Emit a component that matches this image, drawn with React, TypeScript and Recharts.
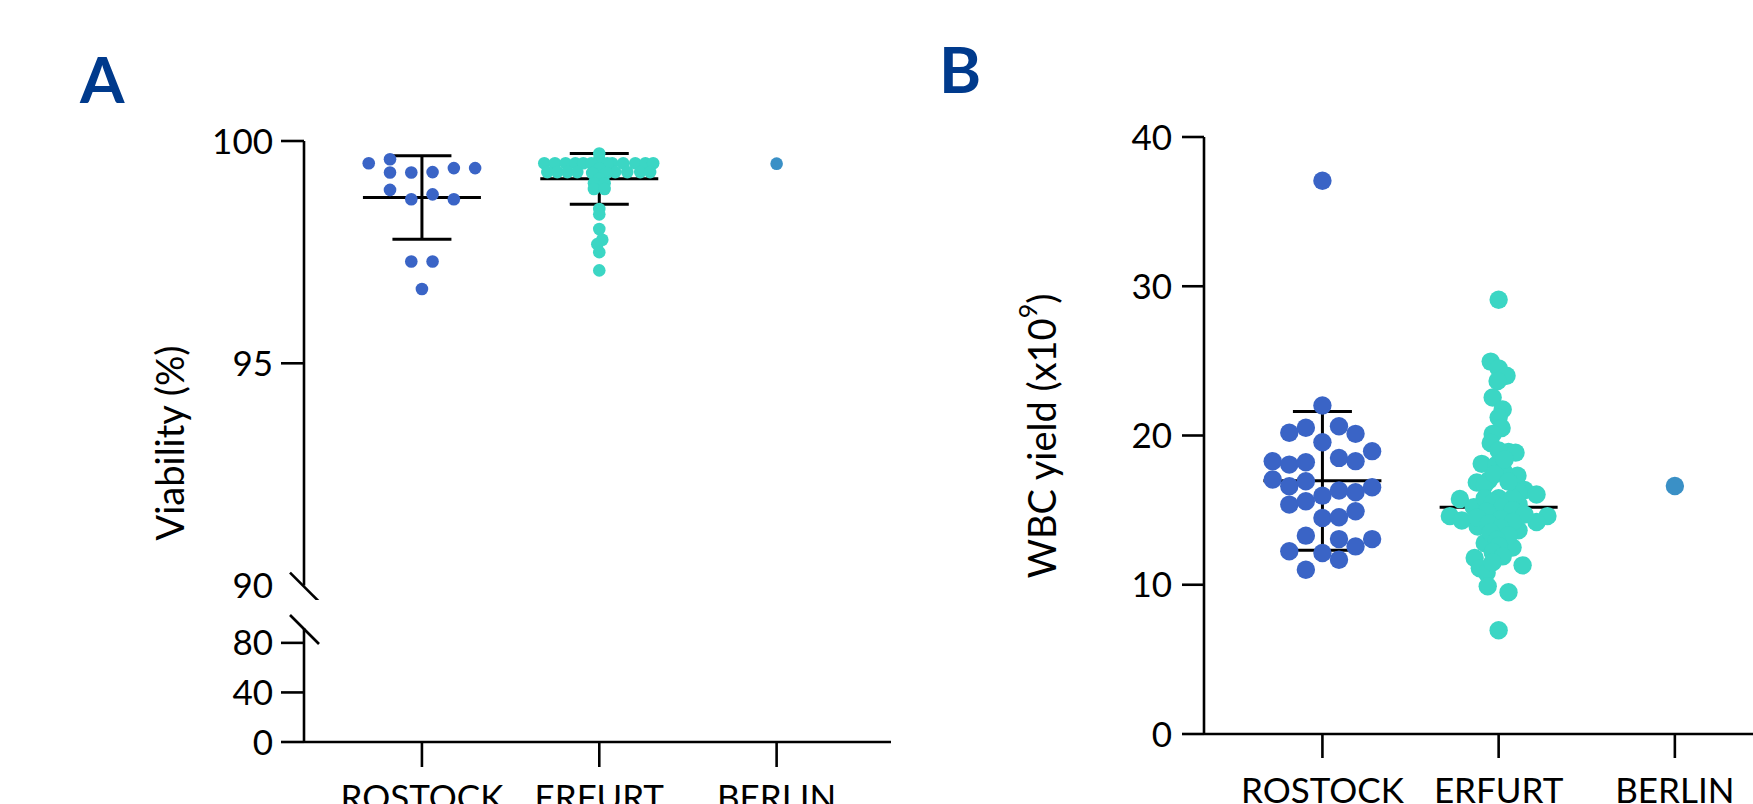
import React from 'react';
import { ScatterChart, Scatter, XAxis, YAxis, ErrorBar } from 'recharts';

const sites = ['ROSTOCK', 'ERFURT', 'BERLIN'];
const siteColors = ['#3A64C6', '#3BD6C4', '#3A90C6'];

// Viability (%) per donation; spread = sideways offset of each dot, in category widths
const rostockViability = [99.5, 99.59, 99.29, 99.29, 99.3, 99.39, 99.39, 98.9, 98.69, 98.8, 98.69, 97.29, 97.29, 96.67];
const rostockViabilitySpread = [-0.3, -0.18, -0.18, -0.06, 0.06, 0.18, 0.3, -0.18, -0.06, 0.06, 0.18, -0.06, 0.06, 0];
const erfurtViability = [
  99.5, 99.5, 99.5, 99.5, 99.5, 99.5, 99.5, 99.5, 99.5, 99.5,
  99.3, 99.3, 99.3, 99.3, 99.3, 99.3, 99.3, 99.3,
  99.72, 99.6, 99.5, 99.5, 99.38, 99.28, 99.28, 99.15, 99.05, 99.05, 98.92, 98.92,
  98.47, 98.35, 98.02, 97.78, 97.68, 97.5, 97.09,
];
const erfurtViabilitySpread = [
  -0.31, -0.25, -0.19, -0.135, -0.09, 0.073, 0.135, 0.203, 0.26, 0.304,
  -0.293, -0.237, -0.18, -0.124, 0.09, 0.158, 0.231, 0.287,
  0, 0, -0.045, 0.045, 0, -0.04, 0.04, 0, -0.03, 0.03, -0.03, 0.03,
  0, 0, 0, 0.017, -0.011, 0, 0,
];
const berlinViability = [99.49];
const viabilityMean = [98.73, 99.15];
const viabilitySd = [0.94, 0.57];

// WBC yield (x10^9)
const rostockWbc = [
  37.07, 22.01, 20.18, 20.52, 20.62, 20.11, 19.55, 18.95, 18.28, 18.05, 18.21, 18.5, 18.28,
  17.05, 16.6, 16.93, 16.53, 15.37, 15.59, 15.97, 16.31, 16.2, 14.48, 14.52, 14.92,
  13.29, 13.06, 12.57, 13.06, 12.24, 12.13, 11.68, 11.01,
];
const rostockWbcSpread = [
  0, 0, -0.188, -0.094, 0.094, 0.188, 0, 0.282, -0.282, -0.188, -0.094, 0.094, 0.188,
  -0.282, -0.188, -0.094, 0.282, -0.188, -0.094, 0, 0.094, 0.188, 0, 0.094, 0.188,
  -0.094, 0.094, 0.188, 0.282, -0.188, 0, 0.094, -0.094,
];
const erfurtWbc = [
  29.1, 24.95, 24.5, 24.0, 23.65, 22.55, 21.75, 21.2, 20.5, 20.1, 19.5, 18.9, 18.85, 18.1, 18.05,
  17.3, 17.0, 16.85, 16.7, 16.35, 16.2, 16.05, 15.75, 15.2, 15.4, 14.6, 14.6, 14.3, 14.2, 13.9,
  13.65, 12.8, 12.5, 11.8, 11.3, 11.1, 10.8, 9.9, 9.5, 6.95,
  15.8, 15.8, 15.8, 15.5, 15.2, 15.0, 14.9, 14.7, 14.5, 14.4, 14.2, 14.1, 13.8, 13.5, 13.3,
  13.0, 12.6, 12.2, 11.9, 11.5, 17.6, 17.4, 19.0, 16.9, 18.4,
];
const erfurtWbcSpread = [
  0, -0.045, 0, 0.045, -0.006, -0.034, 0.023, 0, 0.017, -0.034, -0.045, 0.056, 0.096, -0.096, -0.011,
  0.107, -0.056, -0.124, -0.079, 0.147, 0.113, 0.215, -0.22, -0.141, 0.113, -0.277, 0.277, -0.209, 0.215, -0.119,
  0.113, -0.079, 0.079, -0.136, 0.136, -0.107, -0.068, -0.062, 0.056, 0,
  0, 0.079, -0.079, -0.034, 0.023, 0.079, -0.068, 0.147, -0.124, 0.011, 0.079, -0.056, 0.011, -0.045, 0.056,
  -0.011, 0, -0.034, 0.023, -0.034, 0.028, -0.023, 0, 0.056, 0.034,
];
const berlinWbc = [16.62];
const wbcMean = [16.96, 15.2];
const wbcSd = [4.65, 0]; // no whiskers visible for Erfurt

const viabilityTicksHigh = [90, 95, 100];
const viabilityTicksLow = [0, 40, 80, 92];
const wbcTicks = [0, 10, 20, 30, 40];

const FONT = 'Lato, sans-serif';
const AXIS_W = 2.6;
const domainA: [number, number] = [-0.665, 2.645];
const domainB: [number, number] = [-0.672, 2.65];

const points = (cat: number, values: number[], spread: number[]) =>
  values.map((y, i) => ({ x: cat + (spread[i] || 0), y }));

const summary = (means: number[], sds: number[]) => means.map((m, i) => ({ x: i, y: m, sd: sds[i] }));

const dot = (r: number, fill: string) => (p: any) => <circle cx={p.cx} cy={p.cy} r={r} fill={fill} />;

const meanLine = (p: any) => (
  <line x1={p.cx - 59} x2={p.cx + 59} y1={p.cy} y2={p.cy} stroke="#000" strokeWidth={3} />
);

const makeYTick = (len: number, gap: number, breakAt: number | null, noLabel: number | null) => (p: any) => {
  const v = p.payload.value;
  const ax = p.x + len + gap;
  return (
    <g>
      {v === breakAt ? (
        <line x1={ax - 14} y1={p.y - 13} x2={ax + 15} y2={p.y + 16} stroke="#000" strokeWidth={AXIS_W} />
      ) : (
        <line x1={ax - len} y1={p.y} x2={ax} y2={p.y} stroke="#000" strokeWidth={AXIS_W} />
      )}
      {v !== noLabel && (
        <text x={p.x} y={p.y} dy="0.36em" textAnchor="end" fontFamily={FONT} fontSize={35} fill="#000">
          {v}
        </text>
      )}
    </g>
  );
};

const XTick = (p: any) => (
  <text x={p.x} y={p.y} dy="0.72em" textAnchor="middle" fontFamily={FONT} fontSize={35} fill="#000">
    {sites[p.payload.value]}
  </text>
);

const axisLine = { stroke: '#000', strokeWidth: AXIS_W };

export default function App() {
  return (
    <div style={{ position: 'fixed', left: 0, top: 0, width: 1753, height: 804, overflow: 'hidden', background: '#fff' }}>
      {/* Panel A, upper segment 90-100 */}
      <div style={{ position: 'absolute', left: 0, top: 0 }}>
        <ScatterChart width={900} height={600} margin={{ top: 141, right: 9, bottom: 14.4, left: 0 }}>
          <XAxis type="number" dataKey="x" domain={domainA} allowDataOverflow hide />
          <YAxis
            type="number"
            dataKey="y"
            width={304}
            domain={[90, 100]}
            allowDataOverflow
            ticks={viabilityTicksHigh}
            interval={0}
            tickSize={23}
            tickMargin={8}
            tickLine={false}
            axisLine={axisLine}
            tick={makeYTick(23, 8, 90, null)}
            label={{
              content: () => (
                <text
                  x={169}
                  y={443}
                  transform="rotate(-90 169 443)"
                  textAnchor="middle"
                  dominantBaseline="central"
                  fontFamily={FONT}
                  fontSize={38}
                  fill="#000"
                >
                  Viability (%)
                </text>
              ),
            }}
          />
          <Scatter data={summary(viabilityMean, viabilitySd)} shape={meanLine} isAnimationActive={false}>
            <ErrorBar dataKey="sd" direction="y" width={29.5} stroke="#000" strokeWidth={3} />
          </Scatter>
          <Scatter data={points(0, rostockViability, rostockViabilitySpread)} shape={dot(6.3, siteColors[0])} isAnimationActive={false} />
          <Scatter data={points(1, erfurtViability, erfurtViabilitySpread)} shape={dot(6.3, siteColors[1])} isAnimationActive={false} />
          <Scatter data={points(2, berlinViability, [0])} shape={dot(6.3, siteColors[2])} isAnimationActive={false} />
        </ScatterChart>
      </div>

      {/* Panel A, lower segment 0-80 with the category axis */}
      <div style={{ position: 'absolute', left: 0, top: 560 }}>
        <ScatterChart width={900} height={300} margin={{ top: 68, right: 9, bottom: 0, left: 0 }}>
          <XAxis
            type="number"
            dataKey="x"
            domain={domainA}
            allowDataOverflow
            ticks={[0, 1, 2]}
            interval={0}
            height={118}
            tickSize={25}
            tickMargin={18}
            axisLine={axisLine}
            tickLine={axisLine}
            tick={XTick}
          />
          <YAxis
            type="number"
            dataKey="y"
            width={304}
            domain={[0, 92]}
            allowDataOverflow
            ticks={viabilityTicksLow}
            interval={0}
            tickSize={23}
            tickMargin={8}
            tickLine={false}
            axisLine={axisLine}
            tick={makeYTick(23, 8, 92, 92)}
          />
          <Scatter data={[]} isAnimationActive={false} />
        </ScatterChart>
      </div>

      {/* Panel B */}
      <div style={{ position: 'absolute', left: 900, top: 0 }}>
        <ScatterChart width={900} height={900} margin={{ top: 137, right: 10.6, bottom: 0, left: 0 }}>
          <XAxis
            type="number"
            dataKey="x"
            domain={domainB}
            allowDataOverflow
            ticks={[0, 1, 2]}
            interval={0}
            height={166}
            tickSize={24}
            tickMargin={20}
            axisLine={axisLine}
            tickLine={axisLine}
            tick={XTick}
          />
          <YAxis
            type="number"
            dataKey="y"
            width={304}
            domain={[0, 40]}
            allowDataOverflow
            ticks={wbcTicks}
            interval={0}
            tickSize={22}
            tickMargin={10}
            tickLine={false}
            axisLine={axisLine}
            tick={makeYTick(22, 10, null, null)}
            label={{
              content: () => (
                <text
                  x={141}
                  y={436}
                  transform="rotate(-90 141 436)"
                  textAnchor="middle"
                  dominantBaseline="central"
                  fontFamily={FONT}
                  fontSize={38}
                  fill="#000"
                >
                  <tspan>WBC yield (x10</tspan>
                  <tspan dy={-14} fontSize={25}>9</tspan>
                  <tspan dy={14}>)</tspan>
                </text>
              ),
            }}
          />
          <Scatter data={summary(wbcMean, wbcSd)} shape={meanLine} isAnimationActive={false}>
            <ErrorBar dataKey="sd" direction="y" width={29.5} stroke="#000" strokeWidth={3} />
          </Scatter>
          <Scatter data={points(0, rostockWbc, rostockWbcSpread)} shape={dot(9.2, siteColors[0])} isAnimationActive={false} />
          <Scatter data={points(1, erfurtWbc, erfurtWbcSpread)} shape={dot(9.2, siteColors[1])} isAnimationActive={false} />
          <Scatter data={points(2, berlinWbc, [0])} shape={dot(9.2, siteColors[2])} isAnimationActive={false} />
        </ScatterChart>
      </div>

      {/* panel letters */}
      <svg width={1753} height={804} style={{ position: 'absolute', left: 0, top: 0, pointerEvents: 'none' }}>
        <text x={80} y={103} fontFamily={FONT} fontWeight={700} fontSize={64} fill="#003A8C">A</text>
        <text x={939} y={93} fontFamily={FONT} fontWeight={700} fontSize={64} fill="#003A8C">B</text>
      </svg>
    </div>
  );
}
